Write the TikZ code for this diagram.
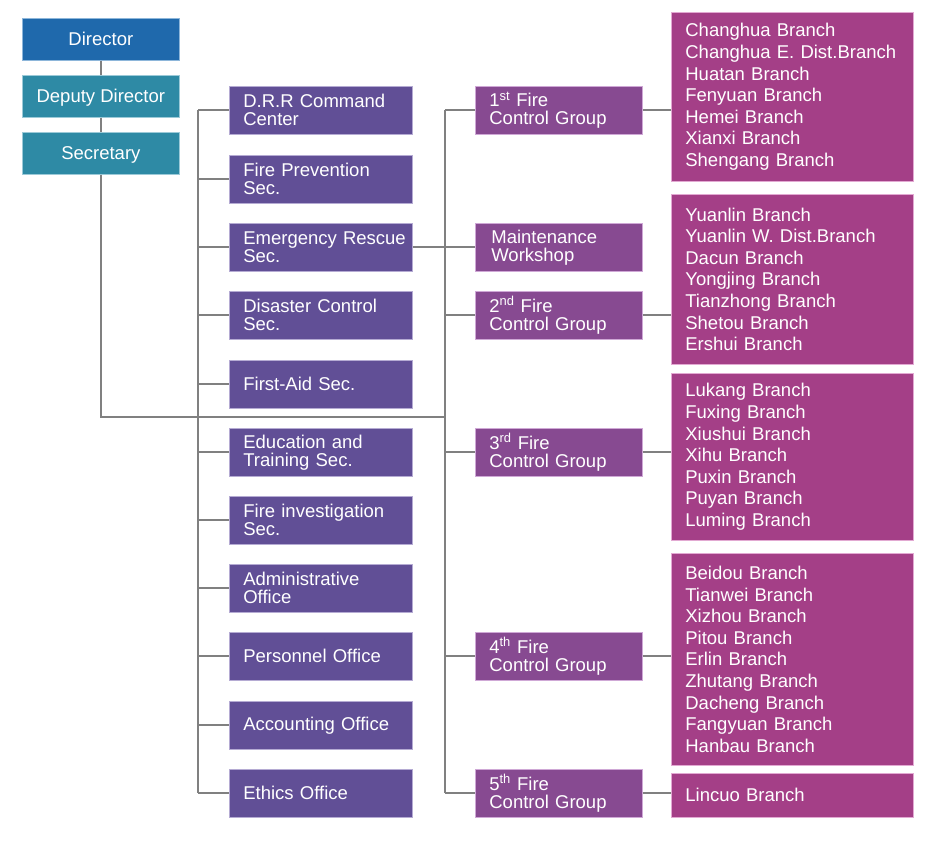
\documentclass[tikz,border=0pt]{standalone}
\usepackage{fontspec}
\setmainfont{Liberation Sans}
\definecolor{cdir}{HTML}{1F69AC}
\definecolor{cdiredge}{HTML}{8DB6DA}
\definecolor{cteal}{HTML}{2E8AA5}
\definecolor{ctealedge}{HTML}{9CCAD8}
\definecolor{clp}{HTML}{614F96}
\definecolor{clpedge}{HTML}{B5ABD3}
\definecolor{cfg}{HTML}{874A91}
\definecolor{cfgedge}{HTML}{CFA8D6}
\definecolor{cbr}{HTML}{A43F87}
\definecolor{cbredge}{HTML}{E2A9D2}
\definecolor{cline}{HTML}{808080}
\newcommand{\boxfont}{\fontsize{18.5}{18}\selectfont}
\newcommand{\brfont}{\fontsize{18.5}{21.6}\selectfont}
\begin{document}
\begin{tikzpicture}[x=1pt,y=-1pt,
  topbox/.style={draw=#1, line width=0.7pt, minimum width=157, minimum height=42, inner sep=0, text height=11.5, text depth=0, anchor=north west, text=white, font=\boxfont},
  lbox/.style={fill=clp, draw=clpedge, line width=0.7pt, minimum width=183, minimum height=48, text width=155, align=left, inner sep=0, anchor=north west, text=white, font=\boxfont},
  fgbox/.style={fill=cfg, draw=cfgedge, line width=0.7pt, minimum width=167, minimum height=48, text width=139, align=left, inner sep=0, anchor=north west, text=white, font=\boxfont},
  brbox/.style={fill=cbr, draw=cbredge, line width=0.7pt, minimum width=242, text width=214, align=left, inner sep=0, anchor=north west, text=white, font=\brfont},
  conn/.style={draw=cline, line width=2pt}]
\useasboundingbox (0,0) rectangle (933,840);

% top boxes
\node[topbox=cdiredge, fill=cdir] (dir) at (22,18) {Director};
\node[topbox=ctealedge, fill=cteal] (dep) at (22,75) {Deputy Director};
\node[topbox=ctealedge, fill=cteal] (sec) at (22,132) {Secretary};

% left column
\node[lbox] (drr) at (229,86) {D.R.R Command\\Center};
\node[lbox] (fps) at (229,155) {Fire Prevention\\Sec.};
\node[lbox] (ers) at (229,223) {\mbox{Emergency Rescue}\\Sec.};
\node[lbox] (dcs) at (229,291) {Disaster Control\\Sec.};
\node[lbox] (fas) at (229,360) {First-Aid Sec.};
\node[lbox] (ets) at (229,428) {Education and\\Training Sec.};
\node[lbox] (fis) at (229,496) {\mbox{Fire investigation}\\Sec.};
\node[lbox] (ado) at (229,564) {Administrative\\Office};
\node[lbox] (peo) at (229,632) {Personnel Office};
\node[lbox] (aco) at (229,701) {Accounting Office};
\node[lbox] (eto) at (229,769) {Ethics Office};

% fire groups
\node[fgbox] (fg1) at (475,86) {1\textsuperscript{st} Fire\\Control Group};
\node[fgbox] (mws) at (475,223) {\hspace*{2pt}Maintenance\\\hspace*{2pt}Workshop};
\node[fgbox] (fg2) at (475,291) {2\textsuperscript{nd} Fire\\Control Group};
\node[fgbox] (fg3) at (475,428) {3\textsuperscript{rd} Fire\\Control Group};
\node[fgbox] (fg4) at (475,632) {4\textsuperscript{th} Fire\\Control Group};
\node[fgbox] (fg5) at (475,769) {5\textsuperscript{th} Fire\\Control Group};

% branches
\node[brbox, minimum height=169] (br1) at (671,12) {Changhua Branch\\\mbox{Changhua E. Dist.Branch}\\Huatan Branch\\Fenyuan Branch\\Hemei Branch\\Xianxi Branch\\Shengang Branch};
\node[brbox, minimum height=170] (br2) at (671,194) {Yuanlin Branch\\\mbox{Yuanlin W. Dist.Branch}\\Dacun Branch\\Yongjing Branch\\Tianzhong Branch\\Shetou Branch\\Ershui Branch};
\node[brbox, minimum height=167] (br3) at (671,373) {Lukang Branch\\Fuxing Branch\\Xiushui Branch\\Xihu Branch\\Puxin Branch\\Puyan Branch\\Luming Branch};
\node[brbox, minimum height=212] (br4) at (671,553) {Beidou Branch\\Tianwei Branch\\Xizhou Branch\\Pitou Branch\\Erlin Branch\\Zhutang Branch\\Dacheng Branch\\Fangyuan Branch\\Hanbau Branch};
\node[brbox, minimum height=44] (br5) at (671,773) {Lincuo Branch};

% bus coordinates
\coordinate (lbus) at (198,0);
\coordinate (rbus) at (445,0);
\coordinate (hub) at (445,417);

% top chain
\draw[conn] (dir.south) -- (dep.north);
\draw[conn] (dep.south) -- (sec.north);
\draw[conn] (sec.south) |- (hub);

% left bus
\draw[conn] (lbus |- drr.west) -- (lbus |- eto.west);
\foreach \n in {drr,fps,ers,dcs,fas,ets,fis,ado,peo,aco,eto}
  \draw[conn] (lbus |- \n.west) -- (\n.west);

% right bus
\draw[conn] (rbus |- fg1.west) -- (rbus |- fg5.west);
\foreach \n in {fg1,fg2,fg3,fg4,fg5}
  \draw[conn] (rbus |- \n.west) -- (\n.west);
\draw[conn] (ers.east) -- (mws.west);

% fire groups to branches
\draw[conn] (fg1.east) -- (fg1.east -| br1.west);
\draw[conn] (fg2.east) -- (fg2.east -| br2.west);
\draw[conn] (fg3.east) -- (fg3.east -| br3.west);
\draw[conn] (fg4.east) -- (fg4.east -| br4.west);
\draw[conn] (fg5.east) -- (fg5.east -| br5.west);
\end{tikzpicture}
\end{document}
